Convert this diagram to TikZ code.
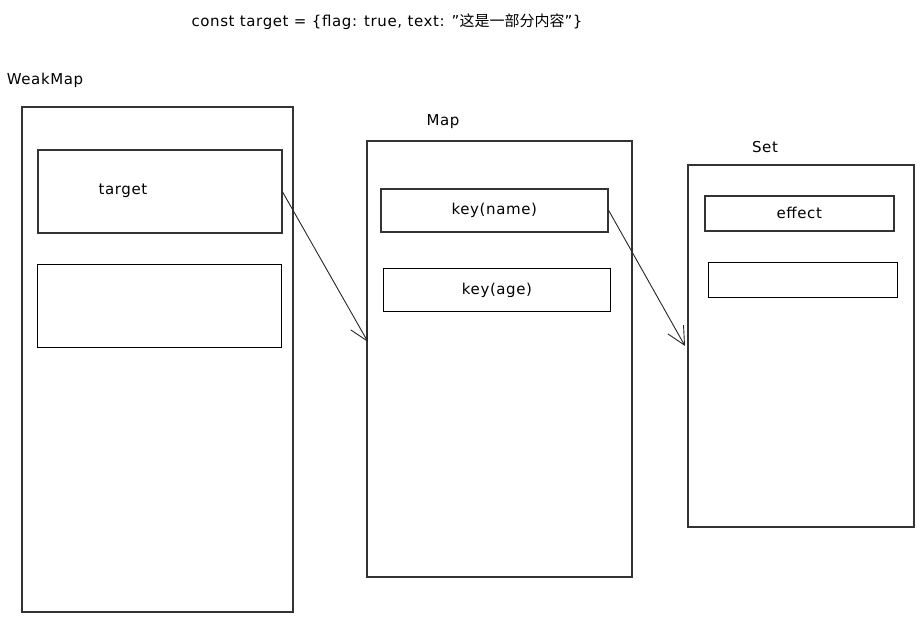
\documentclass[tikz,border=0pt]{standalone}
\usepackage{fontspec}
\setmainfont{DejaVu Sans}[LetterSpace=4]
\newfontfamily\cjk{Noto Sans CJK SC}
\usetikzlibrary{arrows.meta}
\begin{document}
\begin{tikzpicture}[x=1pt,y=-1pt,
  thick box/.style={draw=black!80, line width=1.6pt},
  thin box/.style={draw=black, line width=1pt},
  lbl/.style={inner sep=0pt, font=\fontsize{15}{17}\selectfont},
  conn/.style={draw=black!85, line width=0.9pt, -{Straight Barb[length=18pt,width=18pt]}}]
\useasboundingbox (0,0) rectangle (923,623);
% title
\node[lbl] (title) at (387,22) {const target = \{flag: true, text: "{\cjk 这是一部分内容}"\}};
% WeakMap
\node[lbl] (wmlabel) at (45,80) {WeakMap};
\draw[thick box] (22,107) rectangle (293,612);
\node[thick box, minimum width=244pt, minimum height=83pt, anchor=north west, inner sep=0pt] (target) at (37,149) {};
\node[lbl] (targettext) at (123,191) {target};
\node[thin box, minimum width=244pt, minimum height=83pt, anchor=north west, inner sep=0pt] (wm2) at (37,264) {};
% Map
\node[lbl] (maplabel) at (443,122) {Map};
\node[thick box, minimum width=265pt, minimum height=436pt, anchor=north west, inner sep=0pt] (map) at (366,140) {};
\node[thick box, minimum width=227pt, minimum height=43pt, anchor=north west, inner sep=0pt, font=\fontsize{15}{17}\selectfont] (kname) at (380,188) {key(name)};
\node[thin box, minimum width=227pt, minimum height=43pt, anchor=north west, inner sep=0pt, font=\fontsize{15}{17}\selectfont] (kage) at (383,268) {key(age)};
% Set
\node[lbl] (setlabel) at (765,147) {Set};
\node[thick box, minimum width=226pt, minimum height=362pt, anchor=north west, inner sep=0pt] (set) at (687,164) {};
\node[thick box, minimum width=189pt, minimum height=35pt, anchor=north west, inner sep=0pt, font=\fontsize{15}{17}\selectfont] (effect) at (704,195) {effect};
\node[thin box, minimum width=189pt, minimum height=35pt, anchor=north west, inner sep=0pt] (set2) at (708,262) {};
% connectors
\coordinate (a1) at (368,342);
\coordinate (a2) at (685,346);
\draw[conn] (target.east |- 0,192) -- (a1);
\draw[conn] (kname.east) -- (a2);
\end{tikzpicture}
\end{document}
